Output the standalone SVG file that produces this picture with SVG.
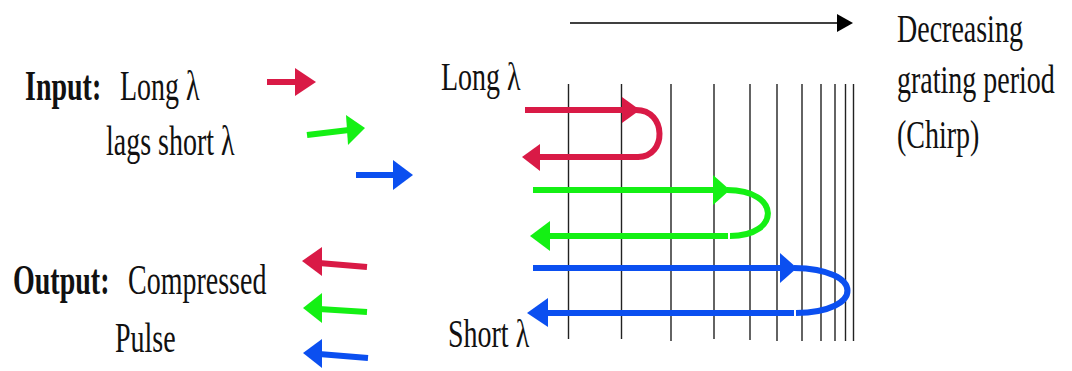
<svg xmlns="http://www.w3.org/2000/svg" width="1072" height="371" viewBox="0 0 1072 371">
<style>
.t{font-family:"Liberation Serif","Times New Roman",serif;font-size:28px;fill:#111}
.b{font-weight:bold}
.g{stroke:#222;stroke-width:1.4}
.r{fill:#D91A46}.rs{stroke:#D91A46}
.gn{fill:#14F014}.gs{stroke:#14F014}
.bl{fill:#0B4FF0}.bs{stroke:#0B4FF0}
.ln{fill:none;stroke-width:6}
</style>
<rect width="1072" height="371" fill="#fff"/>
<g id="labels">
  <g id="input-label">
    <text class="t b" transform="translate(25,100) scale(1,1.5)">Input:</text>
    <text class="t" transform="translate(120,100) scale(1,1.5)">Long λ</text>
    <text class="t" transform="translate(106,155) scale(1,1.5)">lags short λ</text>
  </g>
  <g id="output-label">
    <text class="t b" transform="translate(13,294) scale(1,1.5)">Output:</text>
    <text class="t" transform="translate(128,294) scale(1,1.5)">Compressed</text>
    <text class="t" transform="translate(115,352) scale(1,1.5)">Pulse</text>
  </g>
  <g id="long-label"><text class="t" transform="translate(441,90) scale(1,1.45)">Long λ</text></g>
  <g id="short-label"><text class="t" transform="translate(448,347) scale(1,1.45)">Short λ</text></g>
  <g id="chirp-label">
    <text class="t" transform="translate(897,42) scale(1,1.42)">Decreasing</text>
    <text class="t" transform="translate(897,93) scale(1,1.42)">grating period</text>
    <text class="t" transform="translate(897,148) scale(1,1.42)">(Chirp)</text>
  </g>
</g>
<g id="grating" class="g">
  <line x1="568.5" y1="84" x2="568.5" y2="339"/>
  <line x1="621.5" y1="84" x2="621.5" y2="339"/>
  <line x1="671" y1="84" x2="671" y2="341"/>
  <line x1="714" y1="84" x2="714" y2="339"/>
  <line x1="750" y1="84" x2="750" y2="340"/>
  <line x1="777" y1="84" x2="777" y2="341"/>
  <line x1="802" y1="84" x2="802" y2="341"/>
  <line x1="821" y1="84" x2="821" y2="341"/>
  <line x1="835" y1="84" x2="835" y2="341"/>
  <line x1="845.5" y1="84" x2="845.5" y2="341"/>
  <line x1="853.5" y1="84" x2="853.5" y2="341"/>
</g>
<g id="connectors">
  <g id="chirp-direction">
    <line x1="570" y1="23" x2="840" y2="23" stroke="#000" stroke-width="1.6"/>
    <polygon points="837,14 853,23 837,32" fill="#000"/>
  </g>
  <g id="input-arrows">
    <line class="ln rs" x1="267" y1="82" x2="298" y2="82" stroke-width="7"/>
    <polygon class="r" points="295,68 316,82 295,96"/>
    <line class="ln gs" x1="307" y1="135" x2="349" y2="130" stroke-width="6"/>
    <polygon class="gn" points="346,115 365,128 348,145"/>
    <line class="ln bs" x1="356" y1="175" x2="396" y2="175" stroke-width="6"/>
    <polygon class="bl" points="393,160 413,175 393,190"/>
  </g>
  <g id="output-arrows">
    <line class="ln rs" x1="319" y1="263" x2="367" y2="267" stroke-width="6"/>
    <polygon class="r" points="322,247 302,261 322,276"/>
    <line class="ln gs" x1="319" y1="309" x2="367" y2="312" stroke-width="6"/>
    <polygon class="gn" points="322,293 303,308 322,323"/>
    <line class="ln bs" x1="319" y1="354" x2="368" y2="358" stroke-width="6"/>
    <polygon class="bl" points="322,339 303,353 322,368"/>
  </g>
  <g id="red-reflection">
    <line class="ln rs" x1="525" y1="110" x2="625" y2="110"/>
    <polygon class="r" points="622,97 640,110 622,123"/>
    <path class="ln rs" d="M636 110 C667 110,667 157,638 157"/>
    <line class="ln rs" x1="538" y1="157" x2="639" y2="157"/>
    <polygon class="r" points="540,144 522,157 540,171"/>
  </g>
  <g id="green-reflection">
    <line class="ln gs" x1="533" y1="190" x2="716" y2="190"/>
    <polygon class="gn" points="713,175 730,190 713,205"/>
    <path class="ln gs" d="M727 190 C781 190,781 236,730 236"/>
    <line class="ln gs" x1="548" y1="236" x2="728" y2="236"/>
    <polygon class="gn" points="550,221 530,236 550,251"/>
  </g>
  <g id="blue-reflection">
    <line class="ln bs" x1="533" y1="268" x2="783" y2="268"/>
    <polygon class="bl" points="780,253 797,268 780,283"/>
    <path class="ln bs" d="M794 268 C865 269,865 312,796 313"/>
    <line class="ln bs" x1="546" y1="313" x2="794" y2="313"/>
    <polygon class="bl" points="548,298 527,313 548,327"/>
  </g>
</g>
</svg>
